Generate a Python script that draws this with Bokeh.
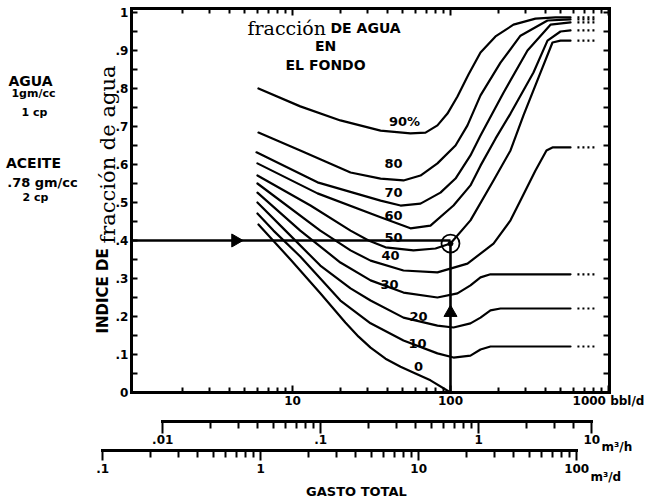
import numpy as np
from bokeh.plotting import figure
from bokeh.models import (Range1d, LogAxis, LinearAxis, FixedTicker, LogScale,
                          Label, CustomJSTickFormatter)
from bokeh.core.properties import value
from bokeh.embed import file_html
from bokeh.resources import INLINE

# ---------------- data ----------------
# total rate q in bbl/d, "indice de fraccion de agua" (0..1)
c0_q = [6.09, 9.71, 15.0, 21.6, 26.2, 31.2, 38.8, 48.3, 60.0, 74.7, 100]
c0_i = [0.442, 0.350, 0.261, 0.184, 0.147, 0.118, 0.089, 0.068, 0.050, 0.032, 0.0]

c10_q = [6.0, 7.58, 11.2, 20.1, 31.2, 50.4, 82.7, 104.5, 133.8, 154.9, 179.1, 575]
c10_i = [0.471, 0.426, 0.358, 0.242, 0.182, 0.137, 0.103, 0.092, 0.097, 0.113, 0.121, 0.121]

c20_q = [6.0, 9.03, 15.0, 23.3, 31.2, 50.4, 82.7, 104.5, 133.8, 154.9, 179.1, 207.3, 575]
c20_i = [0.500, 0.426, 0.334, 0.274, 0.242, 0.197, 0.176, 0.171, 0.182, 0.197, 0.216, 0.221, 0.221]

c30_q = [6.0, 11.2, 20.1, 31.2, 50.4, 82.7, 110.7, 133.8, 154.9, 179.1, 575]
c30_i = [0.526, 0.426, 0.342, 0.295, 0.263, 0.250, 0.261, 0.282, 0.303, 0.311, 0.311]

c40_q = [6.0, 15.0, 23.3, 31.2, 50.4, 82.7, 128.1, 187.2, 239.8, 277.3, 345.1, 405.1, 442.2, 575]
c40_i = [0.550, 0.426, 0.374, 0.347, 0.321, 0.316, 0.339, 0.392, 0.453, 0.505, 0.584, 0.637, 0.645, 0.645]

c50_q = [6.0, 13.0, 23.3, 30.3, 38.8, 58.3, 80.4, 100, 133.8, 187.2, 239.8, 289.7, 371.2, 442.2, 496.8, 575]
c50_i = [0.571, 0.492, 0.426, 0.400, 0.382, 0.374, 0.379, 0.392, 0.453, 0.558, 0.637, 0.729, 0.842, 0.921, 0.926, 0.926]

c60_q = [6.0, 14.4, 36.1, 55.8, 74.7, 104.5, 133.8, 154.9, 192.7, 239.8, 335.2, 411.1, 496.8, 575]
c60_i = [0.603, 0.524, 0.461, 0.432, 0.439, 0.492, 0.545, 0.597, 0.668, 0.734, 0.842, 0.926, 0.950, 0.953]

c70_q = [5.92, 14.4, 36.1, 48.3, 64.6, 86.4, 107.6, 133.8, 154.9, 216.5, 307.2, 429.5, 575]
c70_i = [0.632, 0.553, 0.505, 0.492, 0.497, 0.526, 0.563, 0.624, 0.676, 0.789, 0.900, 0.968, 0.974]

c80_q = [6.09, 11.2, 23.3, 36.1, 50.4, 64.6, 82.7, 107.6, 128.1, 154.9, 207.3, 277.3, 411.1, 575]
c80_i = [0.684, 0.637, 0.579, 0.563, 0.558, 0.571, 0.603, 0.650, 0.703, 0.782, 0.868, 0.939, 0.979, 0.982]

c90_q = [6.09, 11.2, 20.1, 36.1, 55.8, 69.5, 82.7, 95.7, 110.7, 130.0, 154.9, 192.7, 250.4, 345.1, 462, 575]
c90_i = [0.800, 0.753, 0.716, 0.689, 0.682, 0.684, 0.703, 0.734, 0.779, 0.837, 0.895, 0.937, 0.968, 0.984, 0.987, 0.987]

curve_labels = ["0", "10", "20", "30", "40", "50", "60", "70", "80", "90%"]
curve_label_q = [62.7, 61.8, 62.7, 41.1, 41.7, 43.6, 43.6, 43.6, 43.6, 51.2]
curve_label_i = [0.068, 0.129, 0.200, 0.284, 0.361, 0.408, 0.466, 0.526, 0.603, 0.713]

# high-rate asymptotes, shown as dotted continuations
plateau_levels = [0.121, 0.221, 0.311, 0.645, 0.926, 0.953, 0.974, 0.982, 0.987]
plateau_dot_q = [636, 827]

# worked example
example_rate = 100          # bbl/d
example_index = 0.4
example_point_index = 0.392
arrow_h_q = 4.36
arrow_v_i = 0.21

# axes
bbl_ticks = [10, 100, 1000]
bbl_tick_labels = ["10", "100", "1000 bbl/d"]
bbl_minor = [2, 3, 4, 5, 6, 7, 8, 9, 20, 30, 40, 50, 60, 70, 80, 90,
             200, 300, 400, 500, 600, 700, 800, 900]
m3h_ticks = [0.01, 0.1, 1, 5.2]
m3h_tick_labels = [".01", ".1", "1", "10"]
m3h_minor = [0.02, 0.03, 0.04, 0.05, 0.06, 0.07, 0.08, 0.09,
             0.2, 0.3, 0.4, 0.5, 0.6, 0.7, 0.8, 0.9, 2, 3, 4]
m3d_ticks = [0.1, 1, 10, 100]
m3d_tick_labels = [".1", "1", "10", "100"]
m3d_minor = [0.2, 0.3, 0.4, 0.5, 0.6, 0.7, 0.8, 0.9, 2, 3, 4, 5, 6, 7, 8, 9,
             20, 30, 40, 50, 60, 70, 80, 90]
y_ticks = [0, 0.1, 0.2, 0.3, 0.4, 0.5, 0.6, 0.7, 0.8, 0.9, 1.0]
y_tick_labels = ["0", ".1", ".2", ".3", ".4", ".5", ".6", ".7", ".8", ".9", "1"]
y_minor = [0.05, 0.15, 0.25, 0.35, 0.45, 0.55, 0.65, 0.75, 0.85, 0.95]

M3_PER_BBL = 0.158987

# ---------------- layout constants ----------------
W, H = 650, 502
X_LO, X_HI = 0.1419, 1844.7        # canvas edges in bbl/d
Y_LO, Y_HI = -0.2895, 1.0316       # canvas edges in index units
Q_MIN, Q_MAX = 0.957, 1015         # main chart box
I_MIN, I_MAX = 0.0, 1.01
M3H_AXIS_AT = -0.0763
M3D_AXIS_AT = -0.1526

SANS = "DejaVu Sans"
SERIF = "DejaVu Serif"


def fmt(tv, tl):
    return CustomJSTickFormatter(args=dict(tv=tv, tl=tl), code="""
        for (let k = 0; k < tv.length; k++) {
            if (Math.abs(tv[k] - tick) <= 1e-9 * Math.max(1, Math.abs(tick))) return tl[k];
        }
        return "";
    """)


p = figure(width=W, height=H, x_axis_type="log",
           x_range=Range1d(X_LO, X_HI), y_range=Range1d(Y_LO, Y_HI),
           x_axis_location=None, y_axis_location=None,
           output_backend="svg", toolbar_location=None, min_border=0)
p.grid.visible = False
p.outline_line_color = None
p.background_fill_color = "white"
p.border_fill_color = "white"

p.extra_x_ranges = {
    "m3h": Range1d(X_LO * M3_PER_BBL / 24, X_HI * M3_PER_BBL / 24),
    "m3d": Range1d(X_LO * M3_PER_BBL, X_HI * M3_PER_BBL),
}
p.extra_x_scales = {"m3h": LogScale(), "m3d": LogScale()}


def make_axis(cls, place, loc, bounds, ticks, minor, labels, tin, tout,
              mtin, mtout, size="12px", standoff=2, **kw):
    ax = cls(fixed_location=loc, bounds=bounds,
             ticker=FixedTicker(ticks=ticks, minor_ticks=minor),
             formatter=fmt(ticks if labels else [], labels or []), **kw)
    ax.axis_line_width = 3
    ax.axis_line_cap = "square"
    ax.axis_line_color = "black"
    ax.major_tick_line_width = 2
    ax.minor_tick_line_width = 2
    ax.major_tick_line_color = "black"
    ax.minor_tick_line_color = "black"
    ax.major_tick_in = tin
    ax.major_tick_out = tout
    ax.minor_tick_in = mtin
    ax.minor_tick_out = mtout
    ax.major_label_text_font = SANS
    ax.major_label_text_font_style = "bold"
    ax.major_label_text_color = "black"
    ax.major_label_text_font_size = size if labels else "1px"
    ax.major_label_standoff = standoff
    p.add_layout(ax, place)
    return ax


# main chart box
make_axis(LogAxis, "below", I_MIN, (Q_MIN, Q_MAX), bbl_ticks, bbl_minor,
          bbl_tick_labels, 7, 0, 5, 0, standoff=2)
make_axis(LogAxis, "above", I_MAX, (Q_MIN, Q_MAX), bbl_ticks, bbl_minor,
          None, 7, 0, 5, 0, standoff=0)
make_axis(LinearAxis, "left", Q_MIN, (I_MIN, I_MAX), y_ticks, y_minor,
          y_tick_labels, 6, 0, 6, 0, standoff=3)
make_axis(LinearAxis, "right", Q_MAX, (I_MIN, I_MAX), y_ticks, y_minor,
          None, 6, 0, 6, 0, standoff=0)

# secondary rate scales
make_axis(LogAxis, "below", M3H_AXIS_AT, (m3h_ticks[0], m3h_ticks[-1]),
          m3h_ticks, m3h_minor, m3h_tick_labels, 0, 12, 0, 7, standoff=2,
          x_range_name="m3h")
make_axis(LogAxis, "below", M3D_AXIS_AT, (m3d_ticks[0], m3d_ticks[-1]),
          m3d_ticks, m3d_minor, m3d_tick_labels, 0, 10, 0, 7, standoff=4,
          x_range_name="m3d")

# ---------------- curves ----------------
all_q = [c0_q, c10_q, c20_q, c30_q, c40_q, c50_q, c60_q, c70_q, c80_q, c90_q]
all_i = [c0_i, c10_i, c20_i, c30_i, c40_i, c50_i, c60_i, c70_i, c80_i, c90_i]
for qq, ii in zip(all_q, all_i):
    p.line(qq, ii, line_color="black", line_width=2.2,
           line_join="round", line_cap="round")

for lvl in plateau_levels:
    p.line(plateau_dot_q, [lvl, lvl], line_color="black", line_width=2.2,
           line_dash="2 3")

# worked example
p.line([Q_MIN, example_rate], [example_index, example_index],
       line_color="black", line_width=2.6)
p.line([example_rate, example_rate], [I_MIN, example_point_index],
       line_color="black", line_width=2.6)
p.scatter([arrow_h_q], [example_index], marker="triangle", size=13,
          angle=-np.pi / 2, color="black")
p.scatter([example_rate], [arrow_v_i], marker="triangle", size=13, color="black")
p.scatter([example_rate], [example_point_index], marker="circle", size=18,
          fill_color=None, line_color="black", line_width=1.8)
p.scatter([example_rate], [example_point_index], marker="circle", size=5,
          color="black")

p.text(x=curve_label_q, y=curve_label_i, text=curve_labels,
       text_align="center", text_baseline="middle",
       text_font=value(SANS), text_font_style="bold", text_font_size="13px",
       text_color="black")


def lab(x, y, t, size, font=SANS, style="bold", align="center", angle=0.0):
    p.add_layout(Label(x=x, y=y, text=t, text_font=font, text_font_style=style,
                       text_font_size=size, text_align=align,
                       text_baseline="alphabetic", angle=angle,
                       text_color="black"))


# title inside the chart box
lab(5.19, 0.958, "fracción", "19px", font=SERIF, style="normal", align="left")
lab(17.4, 0.958, "DE AGUA", "14px", align="left")
lab(16.2, 0.913, "EN", "14px")
lab(16.2, 0.861, "EL FONDO", "14px")

# y axis title (mixed lettering)
lab(0.6364, 0.155, "INDICE DE", "15px", align="left", angle=np.pi / 2)
lab(0.6844, 0.392, "fracción de agua", "21px", font=SERIF, style="normal",
    align="left", angle=np.pi / 2)

# fluid properties
lab(0.2197, 0.821, "AGUA", "14px")
lab(0.2295, 0.787, "1gm/cc", "11px")
lab(0.2329, 0.737, "1 cp", "11px")
lab(0.2295, 0.603, "ACEITE", "14px")
lab(0.2617, 0.553, ".78 gm/cc", "13px")
lab(0.2362, 0.513, "2 cp", "11px")

# units and bottom title
lab(903, -0.1447, "m³/h", "12px", align="left")
lab(769, -0.223, "m³/d", "12px", align="left")
lab(25.4, -0.2605, "GASTO TOTAL", "13px")

open("out.html", "w").write(file_html(p, INLINE))
